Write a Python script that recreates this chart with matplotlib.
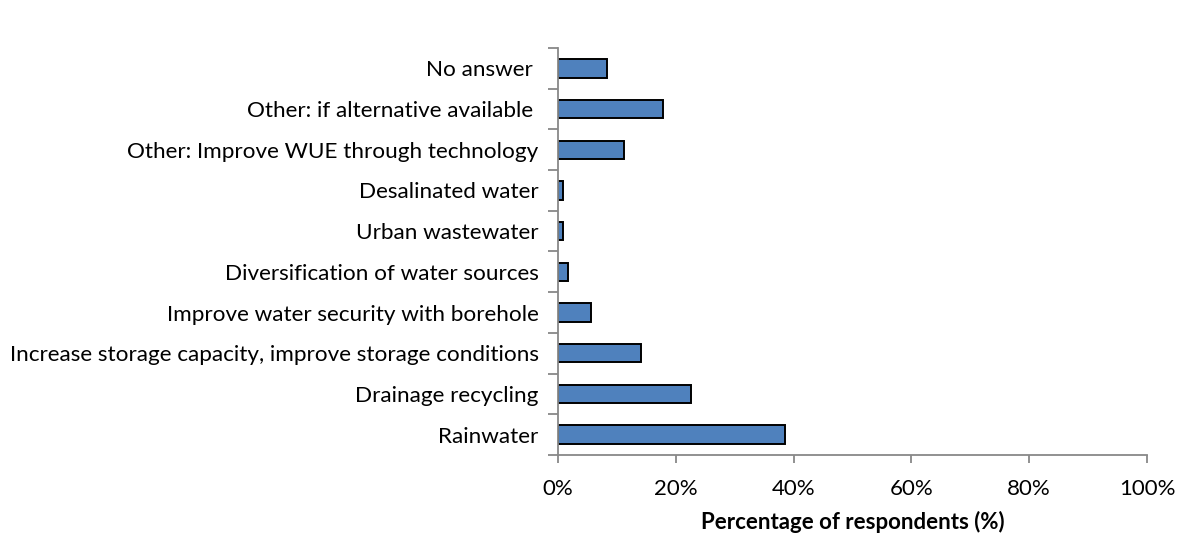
import matplotlib
matplotlib.use("Agg")
import matplotlib.pyplot as plt
from matplotlib.ticker import MultipleLocator, FixedLocator, PercentFormatter

categories = [
    "Rainwater",
    "Drainage recycling",
    "Increase storage capacity, improve storage conditions",
    "Improve water security with borehole",
    "Diversification of water sources",
    "Urban wastewater",
    "Desalinated water",
    "Other: Improve WUE through technology",
    "Other: if alternative available ",
    "No answer ",
]
percentages = [38.6, 22.6, 14.1, 5.6, 1.7, 0.9, 0.9, 11.2, 17.8, 8.4]

plt.rcParams["font.family"] = ["Lato", "DejaVu Sans"]

fig = plt.figure(figsize=(11.77, 5.33), dpi=100)
ax = fig.add_axes([558 / 1177, 1 - 455 / 533, (1147 - 558) / 1177, (455 - 48) / 533])

y = list(range(len(categories)))
ax.barh(y, percentages, height=0.45, color="#4F81BD", edgecolor="black", linewidth=1.4)

ax.set_xlim(0, 100)
ax.set_ylim(-0.5, len(categories) - 0.5)

grey = "#888888"
for side in ("top", "right"):
    ax.spines[side].set_visible(False)
for side in ("left", "bottom"):
    ax.spines[side].set_color(grey)
    ax.spines[side].set_linewidth(1.3)

ax.xaxis.set_major_locator(MultipleLocator(20))
ax.xaxis.set_major_formatter(PercentFormatter(decimals=0))
ax.tick_params(axis="x", direction="out", length=6, width=1.3, color=grey,
               labelsize=16, pad=11, labelcolor="black")

# category labels centred on bars, tick marks on band boundaries
ax.set_yticks(y)
ax.set_yticklabels(categories, fontsize=16.2)
ax.tick_params(axis="y", which="major", length=0, pad=14)
ax.yaxis.set_minor_locator(FixedLocator([i - 0.5 for i in range(len(categories) + 1)]))
ax.tick_params(axis="y", which="minor", direction="out", length=7, width=1.3, color=grey)

ax.set_xlabel("Percentage of respondents (%)", fontsize=16, fontweight="bold", labelpad=9)

fig.savefig("out.png", dpi=100)
